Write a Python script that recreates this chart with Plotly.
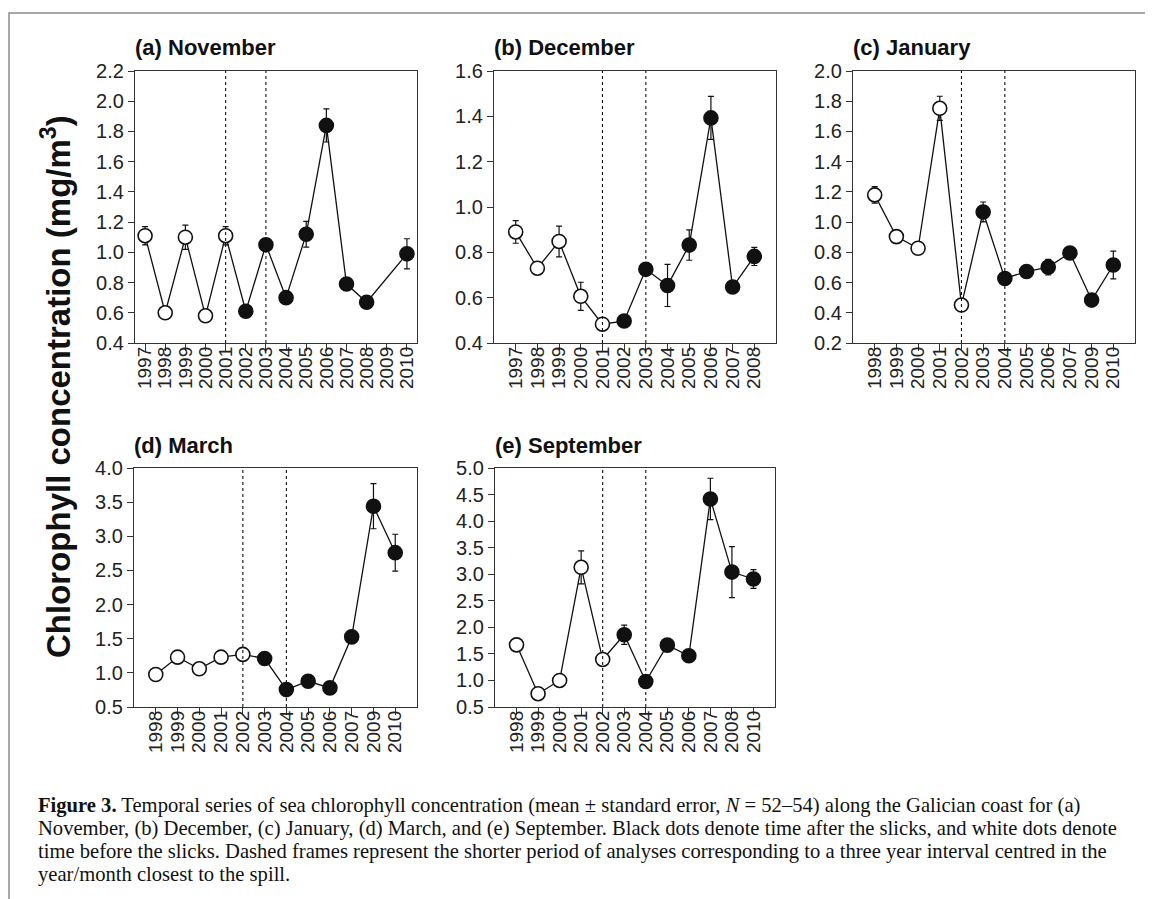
import plotly.graph_objects as go

W, H = 1153, 899
OFF = 8  # page body margin of the rendered html; positions below are compensated for it

# ---------------- data ----------------
nov_years = ["1997", "1998", "1999", "2000", "2001", "2002", "2003", "2004", "2005", "2006", "2007", "2008", "2009", "2010"]
nov_mean = [1.11, 0.60, 1.10, 0.58, 1.11, 0.61, 1.05, 0.70, 1.12, 1.84, 0.79, 0.67, None, 0.99]
nov_se = [0.06, 0.02, 0.08, 0.02, 0.06, 0.02, 0.02, 0.02, 0.085, 0.11, 0.02, 0.02, None, 0.10]

dec_years = ["1997", "1998", "1999", "2000", "2001", "2002", "2003", "2004", "2005", "2006", "2007", "2008"]
dec_mean = [0.89, 0.73, 0.848, 0.606, 0.483, 0.497, 0.725, 0.654, 0.832, 1.393, 0.647, 0.782]
dec_se = [0.05, 0.01, 0.068, 0.062, 0.01, 0.01, 0.01, 0.093, 0.067, 0.095, 0.01, 0.04]

jan_years = ["1998", "1999", "2000", "2001", "2002", "2003", "2004", "2005", "2006", "2007", "2009", "2010"]
jan_mean = [1.18, 0.904, 0.827, 1.753, 0.451, 1.067, 0.627, 0.673, 0.702, 0.796, 0.484, 0.716]
jan_se = [0.055, 0.01, 0.01, 0.08, 0.01, 0.066, 0.01, 0.01, 0.052, 0.01, 0.01, 0.092]

mar_years = ["1998", "1999", "2000", "2001", "2002", "2003", "2004", "2005", "2006", "2007", "2009", "2010"]
mar_mean = [0.976, 1.23, 1.06, 1.23, 1.27, 1.21, 0.755, 0.877, 0.78, 1.527, 3.44, 2.76]
mar_se = [0.02, 0.02, 0.02, 0.02, 0.03, 0.02, 0.02, 0.02, 0.02, 0.03, 0.33, 0.27]

sep_years = ["1998", "1999", "2000", "2001", "2002", "2003", "2004", "2005", "2006", "2007", "2008", "2010"]
sep_mean = [1.67, 0.75, 1.0, 3.13, 1.395, 1.86, 0.98, 1.665, 1.464, 4.417, 3.04, 2.91]
sep_se = [0.03, 0.03, 0.03, 0.31, 0.03, 0.18, 0.03, 0.03, 0.03, 0.39, 0.48, 0.175]

panel_titles = ["(a) November", "(b) December", "(c) January", "(d) March", "(e) September"]
first_after = [2002, 2002, 2003, 2003, 2003]          # first year after the slicks (filled dots)
window_years = [["2001", "2003"], ["2001", "2003"], ["2002", "2004"], ["2002", "2004"], ["2002", "2004"]]
y_ranges = [[0.4, 2.2], [0.4, 1.6], [0.2, 2.0], [0.5, 4.0], [0.5, 5.0]]
y_dticks = [0.2, 0.2, 0.2, 0.5, 0.5]

caption_lines = [
    "<b>Figure 3.</b> Temporal series of sea chlorophyll concentration (mean \u00b1 standard error, <i>N</i> = 52\u201354) along the Galician coast for (a)",
    "November, (b) December, (c) January, (d) March, and (e) September. Black dots denote time after the slicks, and white dots denote",
    "time before the slicks. Dashed frames represent the shorter period of analyses corresponding to a three year interval centred in the",
    "year/month closest to the spill.",
]
y_title = "Chlorophyll concentration (mg/m<sup>3</sup>)"

# ---------------- layout geometry (pixels) ----------------
px_x = [(135, 417), (494, 776), (853, 1135), (134, 417), (495, 775)]
px_y = [(71, 343), (71, 343), (71, 343), (468, 707), (468, 707)]


def PX(p):
    return (p - OFF) / W


def PY(p):
    return 1 - (p - OFF) / H


panels = [
    (nov_years, nov_mean, nov_se),
    (dec_years, dec_mean, dec_se),
    (jan_years, jan_mean, jan_se),
    (mar_years, mar_mean, mar_se),
    (sep_years, sep_mean, sep_se),
]

FONT = "Liberation Sans"
AX = "#333333"

fig = go.Figure()
layout = dict(
    width=W, height=H, autosize=False,
    margin=dict(l=0, r=0, t=0, b=0, pad=0, autoexpand=False),
    paper_bgcolor="white", plot_bgcolor="white",
    showlegend=False,
    font=dict(family=FONT, color="#222222"),
    shapes=[], annotations=[],
)

for i, (years, mean, se) in enumerate(panels):
    n = i + 1
    xa = "x" if n == 1 else f"x{n}"
    ya = "y" if n == 1 else f"y{n}"
    colors = ["white" if int(yr) < first_after[i] else "#111111" for yr in years]
    fig.add_trace(go.Scatter(
        x=years, y=mean, xaxis=xa, yaxis=ya,
        mode="lines+markers", connectgaps=True,
        line=dict(color="#111111", width=1.3),
        marker=dict(symbol="circle", size=14, color=colors, line=dict(color="#111111", width=1.6)),
        error_y=dict(type="data", array=se, visible=True, color="#111111", thickness=1.2, width=3),
        hoverinfo="x+y",
    ))
    x0p, x1p = px_x[i]
    y0p, y1p = px_y[i]
    ncat = len(years)
    xr = [-0.5, ncat - 0.5] if i == 0 else [-1, ncat]
    layout["xaxis" if n == 1 else f"xaxis{n}"] = dict(
        domain=[PX(x0p), PX(x1p)], anchor=ya, automargin=False,
        type="category", categoryorder="array", categoryarray=years,
        tickmode="array", tickvals=years, ticktext=years,
        range=xr, tickangle=-90, ticklabelstandoff=-12,
        showline=True, linecolor=AX, linewidth=1.3, mirror=True,
        ticks="outside", ticklen=7, tickwidth=1.1, tickcolor=AX,
        showgrid=False, zeroline=False,
        tickfont=dict(family=FONT, size=19, color="#222222"),
        fixedrange=True,
    )
    layout["yaxis" if n == 1 else f"yaxis{n}"] = dict(
        domain=[PY(y1p), PY(y0p)], anchor=xa, automargin=False,
        range=y_ranges[i], dtick=y_dticks[i], tick0=0, tickformat=".1f",
        showline=True, linecolor=AX, linewidth=1.3, mirror=True,
        ticks="outside", ticklen=6, tickwidth=1.1, tickcolor=AX,
        showgrid=False, zeroline=False,
        tickfont=dict(family=FONT, size=20, color="#222222"),
        fixedrange=True,
    )
    for wy in window_years[i]:
        xi = years.index(wy)
        layout["shapes"].append(dict(
            type="line", xref=xa, yref="paper", x0=xi, x1=xi,
            y0=PY(y1p), y1=PY(y0p), layer="above",
            line=dict(color="#111111", width=1.1, dash="dot"),
        ))
    layout["annotations"].append(dict(
        text=f"<b>{panel_titles[i]}</b>", xref="paper", yref="paper",
        x=PX(x0p - 2), y=PY(y0p - 23), xanchor="left", yanchor="middle",
        showarrow=False, font=dict(family=FONT, size=22, color="#111111"),
    ))

# y-axis title
layout["annotations"].append(dict(
    text=f"<b>{y_title}</b>", xref="paper", yref="paper",
    x=PX(56), y=PY(387), xanchor="center", yanchor="middle", textangle=-90,
    showarrow=False, font=dict(family=FONT, size=33, color="#111111"),
))

# caption
cap_y = [805, 828, 851, 874]
for line, yy in zip(caption_lines, cap_y):
    layout["annotations"].append(dict(
        text=line, xref="paper", yref="paper",
        x=PX(36), y=PY(yy), xanchor="left", yanchor="middle",
        showarrow=False, font=dict(family="Liberation Serif", size=20.6, color="#111111"),
    ))

# page frame (top and left edges)
layout["shapes"].append(dict(
    type="path", xref="paper", yref="paper",
    path=f"M {PX(9)},0 L {PX(9)},{PY(13)} L 1,{PY(13)}",
    line=dict(color="#8a8a8a", width=1.5),
))

fig.update_layout(**layout)
fig.write_html("out.html")
